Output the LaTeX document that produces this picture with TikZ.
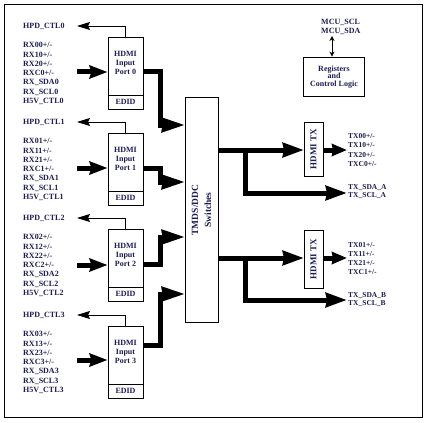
\documentclass[tikz,border=0pt]{standalone}
\usepackage{fontspec}
\setmainfont{Liberation Serif}
\usetikzlibrary{arrows.meta}
\definecolor{navy}{RGB}{28,28,78}
\begin{document}
\begin{tikzpicture}[x=1pt,y=-1pt,
  txt/.style={text=navy,font=\bfseries\fontsize{8}{9.3}\selectfont,inner sep=0pt,align=left},
  txs/.style={text=navy,font=\bfseries\fontsize{7.5}{9.3}\selectfont,inner sep=0pt,align=left},
  box/.style={draw=black,line width=0.9pt,inner sep=0pt},
  bus/.style={line width=5pt,line join=miter,-{Stealth[length=21pt,width=14pt,inset=1pt]}},
  pbus/.style={line width=5pt,line join=miter,-{Stealth[length=23pt,width=14pt,inset=0.5pt]}},
  busS/.style={line width=5pt,-{Stealth[length=15pt,width=12pt,inset=1pt]}},
  inarr/.style={line width=5pt,-{Stealth[length=18pt,width=13pt,inset=2pt]}},
  hpd/.style={line width=0.8pt,-{Stealth[length=13pt,width=8pt,inset=2pt]}},
  dbl/.style={line width=1pt,{Stealth[length=5pt,width=5pt]}-{Stealth[length=5pt,width=5pt]}}
]
\useasboundingbox (0,0) rectangle (427,422);
\draw[line width=0.8pt] (4,4) rectangle (422,417);

% switch
\node[box,minimum width=33pt,minimum height=225pt] (sw) at (201.5,209.5) {};
\node[txt,rotate=90,align=center,font=\bfseries\fontsize{9.5}{13}\selectfont] (swt) at (201.5,210) {TMDS/DDC\\Switches};

% input ports
\foreach \i/\t/\ia/\o/\s in {0/37/72/72/125, 1/133/168/168/182, 2/229/265/264/237, 3/326/360/345/294} {
  \node[box,minimum width=35pt,minimum height=72pt] (p\i) at (125.5,\t+36) {};
  \node[box,text=navy,font=\bfseries\fontsize{8}{9}\selectfont,minimum width=35pt,minimum height=14pt,anchor=south] (e\i) at (p\i.south) {EDID};
  \node[txt,align=center,font=\bfseries\fontsize{8}{9}\selectfont] (l\i) at (125.5,\t+26) {HDMI\\Input\\Port \i};
  \node[txt,anchor=west] (hpd\i) at (23,\t-11) {HPD\_CTL\i};
  \coordinate (ht\i) at (77,\t-11);
  \draw[hpd] (p\i.north) |- (ht\i);
  \node[txt,anchor=west] (rx\i) at (23,\t+36.5) {RX0\i+/-\\RX1\i+/-\\RX2\i+/-\\RXC\i+/-\\RX\_SDA\i\\RX\_SCL\i\\H5V\_CTL\i};
  \coordinate (ia\i) at (77,\ia);
  \draw[inarr] (ia\i) -- (ia\i -| p\i.west);
  \coordinate (po\i) at (143,\o);
  \coordinate (bend\i) at (160,\s);
  \coordinate (si\i) at (185,\s);
  \draw[pbus] (po\i) -| (bend\i) -- (si\i);
}

% registers
\node[box,minimum width=61pt,minimum height=39pt] (reg) at (333.5,76.5) {};
\node[txt,align=center,font=\bfseries\fontsize{8}{7.5}\selectfont] (regt) at (334,77) {Registers\\and\\Control Logic};
\node[txt,anchor=west] (mcu) at (321,27) {MCU\_SCL\\MCU\_SDA};
\coordinate (mcuc) at (332,36);
\draw[dbl] (mcuc) -- (mcuc |- reg.north);

% TX A
\node[box,minimum width=19pt,minimum height=54pt] (txa) at (313.5,149) {};
\node[txt,rotate=90,font=\bfseries\fontsize{9}{10}\selectfont] (txat) at (txa) {HDMI TX};
\coordinate (soa) at (218,150);
\coordinate (tia) at (304,150);
\draw[bus] (soa) -- (tia);
\coordinate (ja) at (245,150);
\coordinate (sdaa) at (347,193);
\draw[bus] (ja) |- (sdaa);
\coordinate (toa) at (323,150);
\coordinate (tea) at (347,150);
\draw[busS] (toa) -- (tea);
\node[txs,anchor=west] (txla) at (348,150) {TX00+/-\\TX10+/-\\TX20+/-\\TXC0+/-};
\node[txs,anchor=west,font=\bfseries\fontsize{7.5}{8}\selectfont] (ddca) at (348,192) {TX\_SDA\_A\\TX\_SCL\_A};

% TX B
\node[box,minimum width=19pt,minimum height=58pt] (txb) at (313.5,259) {};
\node[txt,rotate=90,font=\bfseries\fontsize{9}{10}\selectfont] (txbt) at (txb) {HDMI TX};
\coordinate (sob) at (218,258);
\coordinate (tib) at (304,258);
\draw[bus] (sob) -- (tib);
\coordinate (jb) at (245,258);
\coordinate (sdab) at (347,300);
\draw[bus] (jb) |- (sdab);
\coordinate (tob) at (323,258);
\coordinate (teb) at (347,258);
\draw[busS] (tob) -- (teb);
\node[txs,anchor=west] (txlb) at (348,258.5) {TX01+/-\\TX11+/-\\TX21+/-\\TXC1+/-};
\node[txs,anchor=west,font=\bfseries\fontsize{7.5}{8}\selectfont] (ddcb) at (348,299.5) {TX\_SDA\_B\\TX\_SCL\_B};
\end{tikzpicture}
\end{document}
